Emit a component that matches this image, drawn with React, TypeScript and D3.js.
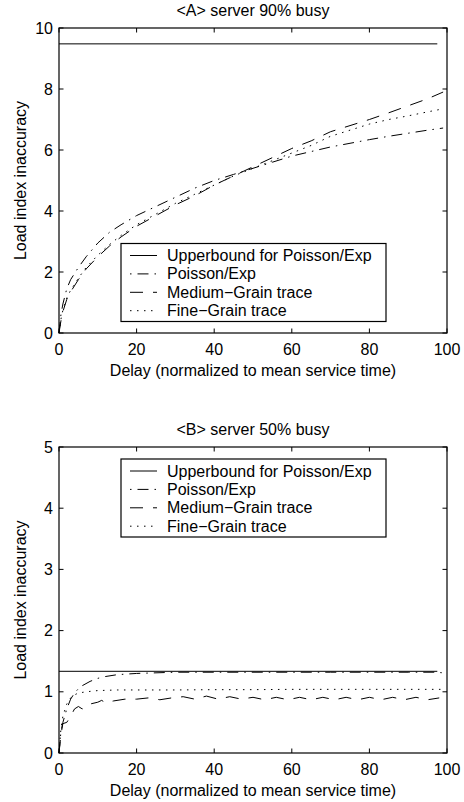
import React from "react";
import * as d3 from "d3";

// ---------- Data ----------
const seriesNames = [
  "Upperbound for Poisson/Exp",
  "Poisson/Exp",
  "Medium\u2212Grain trace",
  "Fine\u2212Grain trace",
];

// Panel A: server 90% busy
const aX = [0, 0.5, 1, 2, 3, 5, 7, 10, 13, 16, 20, 25, 30, 35, 40, 45, 50, 55, 60, 65, 70, 75, 80, 85, 90, 95, 99];
const aPoisson = [0, 0.6, 0.95, 1.45, 1.75, 2.15, 2.5, 2.95, 3.3, 3.55, 3.85, 4.15, 4.45, 4.75, 5.0, 5.2, 5.4, 5.6, 5.8, 5.95, 6.1, 6.22, 6.34, 6.45, 6.55, 6.65, 6.72];
const aMedium = [0, 0.4, 0.7, 1.1, 1.35, 1.75, 2.1, 2.5, 2.85, 3.15, 3.5, 3.85, 4.2, 4.5, 4.85, 5.15, 5.45, 5.75, 6.05, 6.3, 6.6, 6.8, 7.0, 7.22, 7.45, 7.68, 7.9];
const aFine = [0, 0.45, 0.75, 1.15, 1.4, 1.8, 2.15, 2.55, 2.9, 3.2, 3.55, 3.9, 4.25, 4.55, 4.85, 5.15, 5.4, 5.65, 5.9, 6.15, 6.45, 6.65, 6.85, 7.0, 7.12, 7.25, 7.35];
const aBoundX = [0, 97.5];
const aBound = [9.48, 9.48];
const aYTicks = [0, 2, 4, 6, 8, 10];

// Panel B: server 50% busy
const bPoissonX = [0, 0.5, 1, 2, 3, 4, 5, 6, 8, 10, 12, 15, 20, 25, 30, 40, 50, 60, 70, 80, 90, 97, 99];
const bPoisson = [0, 0.35, 0.5, 0.72, 0.88, 0.98, 1.05, 1.1, 1.17, 1.22, 1.25, 1.28, 1.3, 1.31, 1.32, 1.32, 1.32, 1.32, 1.32, 1.32, 1.32, 1.32, 1.31];
const bMediumX = [0, 0.5, 1, 2, 3, 4, 5, 6, 7, 8, 10, 11, 12, 14, 17, 20, 23, 26, 29, 32, 35, 38, 41, 44, 47, 50, 53, 56, 59, 62, 65, 68, 71, 74, 77, 80, 83, 86, 89, 92, 95, 98];
const bMedium = [0, 0.3, 0.48, 0.5, 0.6, 0.72, 0.76, 0.72, 0.78, 0.8, 0.83, 0.86, 0.82, 0.85, 0.88, 0.88, 0.9, 0.87, 0.9, 0.92, 0.88, 0.93, 0.88, 0.92, 0.88, 0.91, 0.87, 0.91, 0.87, 0.91, 0.87, 0.91, 0.87, 0.91, 0.87, 0.91, 0.87, 0.91, 0.87, 0.91, 0.87, 0.9];
const bFineX = [0, 0.5, 1, 2, 3, 4, 5, 7, 10, 15, 20, 30, 40, 50, 60, 70, 80, 90, 99];
const bFine = [0, 0.4, 0.6, 0.8, 0.9, 0.95, 0.98, 1.0, 1.02, 1.03, 1.03, 1.03, 1.035, 1.035, 1.04, 1.04, 1.04, 1.04, 1.04];
const bBoundX = [0, 97.5];
const bBound = [1.335, 1.335];
const bYTicks = [0, 1, 2, 3, 4, 5];

const xTicks = [0, 20, 40, 60, 80, 100];

// ---------- Styles ----------
const FONT = "'Liberation Sans', Arial, Helvetica, sans-serif";
const FS = 16;
const DASH = ["none", "11,6,1.5,6", "13,10", "1.5,5.5"];
const LEGEND_OFFSET = [0, 17, 0, 0];

type Series = { xs: number[]; ys: number[] };

function Panel(props: {
  top: number;
  bottom: number;
  title: string;
  yMax: number;
  yTicks: number[];
  series: Series[];
  legendTop: number;
}) {
  const left = 59;
  const right = 447;
  const { top, bottom, title, yMax, yTicks, series, legendTop } = props;
  const x = d3.scaleLinear().domain([0, 100]).range([left, right]);
  const y = d3.scaleLinear().domain([0, yMax]).range([bottom, top]);
  const line = d3
    .line<[number, number]>()
    .x((d) => x(d[0]))
    .y((d) => y(d[1]));
  const tl = 4.5;
  const lgX = 121;
  const lgW = 265;
  const lgH = 78;
  const rowY = (i: number) => legendTop + 12 + i * 18.4;
  return (
    <g>
      <text x={(left + right) / 2} y={top - 12.5} textAnchor="middle" fontSize={FS} fontFamily={FONT}>
        {title}
      </text>
      {series.map((s, i) => (
        <path
          key={i}
          d={line(s.xs.map((v, k) => [v, s.ys[k]] as [number, number])) || ""}
          fill="none"
          stroke="#000"
          strokeWidth={1}
          strokeDasharray={DASH[i]}
        />
      ))}
      {/* frame */}
      <rect x={left} y={top} width={right - left} height={bottom - top} fill="none" stroke="#000" strokeWidth={1.2} />
      {xTicks.map((t) => (
        <g key={"x" + t}>
          <line x1={x(t)} x2={x(t)} y1={bottom} y2={bottom - tl} stroke="#000" />
          <line x1={x(t)} x2={x(t)} y1={top} y2={top + tl} stroke="#000" />
          <text x={x(t)} y={bottom + 22} textAnchor="middle" fontSize={FS} fontFamily={FONT}>
            {t}
          </text>
        </g>
      ))}
      {yTicks.map((t) => (
        <g key={"y" + t}>
          <line x1={left} x2={left + tl} y1={y(t)} y2={y(t)} stroke="#000" />
          <line x1={right} x2={right - tl} y1={y(t)} y2={y(t)} stroke="#000" />
          <text x={53} y={y(t) + 5.5} textAnchor="end" fontSize={FS} fontFamily={FONT}>
            {t}
          </text>
        </g>
      ))}
      <text x={(left + right) / 2} y={bottom + 42.5} textAnchor="middle" fontSize={FS} fontFamily={FONT}>
        Delay (normalized to mean service time)
      </text>
      <text
        transform={`translate(25.5,${(top + bottom) / 2}) rotate(-90)`}
        textAnchor="middle"
        fontSize={FS}
        fontFamily={FONT}
      >
        Load index inaccuracy
      </text>
      {/* legend */}
      <rect x={lgX} y={legendTop} width={lgW} height={lgH} fill="#fff" stroke="#000" strokeWidth={1.2} />
      {seriesNames.map((n, i) => (
        <g key={n}>
          <line
            x1={lgX + 9}
            x2={lgX + 36}
            y1={rowY(i)}
            y2={rowY(i)}
            stroke="#000"
            strokeWidth={1}
            strokeDasharray={DASH[i]}
            strokeDashoffset={LEGEND_OFFSET[i]}
          />
          <text x={lgX + 46} y={rowY(i) + 5.5} fontSize={FS} fontFamily={FONT}>
            {n}
          </text>
        </g>
      ))}
    </g>
  );
}

export default function App() {
  return (
    <svg
      width={464}
      height={802}
      style={{ position: "absolute", left: 0, top: 0, display: "block", background: "#fff" }}
    >
      <rect width={464} height={802} fill="#fff" />
      <Panel
        top={28}
        bottom={333}
        title="<A> server 90% busy"
        yMax={10}
        yTicks={aYTicks}
        legendTop={243.5}
        series={[
          { xs: aBoundX, ys: aBound },
          { xs: aX, ys: aPoisson },
          { xs: aX, ys: aMedium },
          { xs: aX, ys: aFine },
        ]}
      />
      <Panel
        top={447}
        bottom={753}
        title="<B> server 50% busy"
        yMax={5}
        yTicks={bYTicks}
        legendTop={459}
        series={[
          { xs: bBoundX, ys: bBound },
          { xs: bPoissonX, ys: bPoisson },
          { xs: bMediumX, ys: bMedium },
          { xs: bFineX, ys: bFine },
        ]}
      />
    </svg>
  );
}
